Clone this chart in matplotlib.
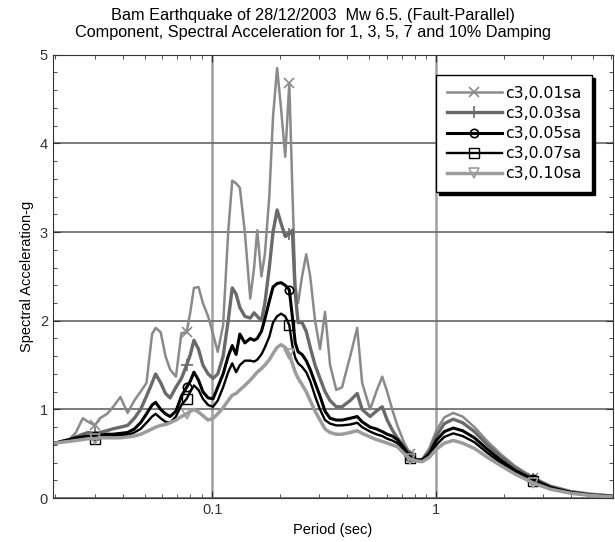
# Response spectra of the Bam record for five damping ratios
import numpy as np
import matplotlib
matplotlib.use("Agg")
import matplotlib.pyplot as plt
from matplotlib.ticker import FixedLocator, FuncFormatter, MultipleLocator, LogLocator, NullFormatter

plt.rcParams['font.family'] = ['Liberation Sans', 'DejaVu Sans']

# Period values (sec)
periods = [0.02, 0.0214, 0.0232, 0.0247, 0.0265, 0.028, 0.030, 0.0316, 0.034, 0.036,
           0.039, 0.042, 0.045, 0.048, 0.051, 0.054, 0.056, 0.059, 0.062, 0.065,
           0.069, 0.073, 0.077, 0.080, 0.083, 0.087, 0.091, 0.096, 0.101, 0.106,
           0.112, 0.118, 0.123, 0.128, 0.133, 0.140, 0.148, 0.154, 0.159, 0.166,
           0.172, 0.180, 0.187, 0.195, 0.203, 0.212, 0.221, 0.228, 0.235, 0.242,
           0.252, 0.263, 0.274, 0.288, 0.303, 0.319, 0.336, 0.358, 0.380, 0.413,
           0.444, 0.467, 0.507, 0.540, 0.574, 0.604, 0.636, 0.670, 0.720, 0.766,
           0.814, 0.866, 0.931, 1.0, 1.086, 1.19, 1.31, 1.48, 1.69, 1.93,
           2.25, 2.71, 3.23, 3.97, 4.87, 6.0]

# Spectral acceleration (g) for each damping ratio
sa_01 = [0.62, 0.64, 0.67, 0.74, 0.90, 0.86, 0.82, 0.90, 0.95, 1.02,
         1.14, 0.96, 1.10, 1.20, 1.30, 1.85, 1.92, 1.87, 1.60, 1.45,
         1.37, 1.86, 1.87, 2.10, 2.37, 2.38, 2.20, 2.05, 1.85, 1.65,
         1.95, 3.00, 3.58, 3.55, 3.50, 3.00, 2.25, 2.60, 3.02, 2.50,
         2.75, 3.40, 4.30, 4.85, 4.40, 3.85, 4.68, 3.50, 2.40, 2.20,
         2.50, 2.75, 2.50, 2.00, 1.68, 2.10, 1.50, 1.22, 1.25, 1.60,
         1.92, 1.30, 1.00, 1.20, 1.37, 1.20, 1.00, 0.82, 0.62, 0.50,
         0.44, 0.44, 0.56, 0.76, 0.91, 0.96, 0.92, 0.80, 0.64, 0.50,
         0.36, 0.23, 0.14, 0.08, 0.05, 0.03]
sa_03 = [0.62, 0.64, 0.66, 0.69, 0.72, 0.74, 0.73, 0.74, 0.76, 0.78,
         0.80, 0.82, 0.90, 1.00, 1.15, 1.30, 1.40, 1.30, 1.18, 1.13,
         1.25, 1.35, 1.50, 1.62, 1.78, 1.68, 1.50, 1.40, 1.35, 1.40,
         1.60, 2.00, 2.37, 2.30, 2.15, 2.05, 2.03, 2.09, 2.05, 2.00,
         2.20, 2.60, 3.00, 3.25, 3.10, 2.95, 2.98, 3.02, 2.30, 1.98,
         1.98, 1.88, 1.70, 1.50, 1.35, 1.20, 1.10, 1.03, 1.03, 1.10,
         1.18, 1.00, 0.92, 0.98, 1.03, 0.88, 0.77, 0.68, 0.58, 0.48,
         0.43, 0.43, 0.53, 0.70, 0.84, 0.89, 0.85, 0.75, 0.60, 0.47,
         0.34, 0.22, 0.13, 0.07, 0.04, 0.025]
sa_05 = [0.62, 0.64, 0.66, 0.68, 0.69, 0.70, 0.70, 0.71, 0.72, 0.72,
         0.73, 0.74, 0.78, 0.85, 0.95, 1.05, 1.08, 1.00, 0.95, 0.92,
         0.98, 1.15, 1.25, 1.32, 1.42, 1.33, 1.20, 1.13, 1.12, 1.25,
         1.40, 1.60, 1.72, 1.62, 1.85, 1.75, 1.80, 1.78, 1.80, 1.88,
         2.02, 2.22, 2.38, 2.42, 2.43, 2.40, 2.35, 2.05, 1.75, 1.65,
         1.62, 1.55, 1.45, 1.30, 1.15, 0.98, 0.90, 0.88, 0.88, 0.90,
         0.92, 0.86, 0.80, 0.78, 0.75, 0.72, 0.70, 0.66, 0.56, 0.46,
         0.43, 0.43, 0.50, 0.65, 0.75, 0.79, 0.76, 0.68, 0.55, 0.43,
         0.31, 0.21, 0.12, 0.065, 0.035, 0.02]
sa_07 = [0.62, 0.64, 0.65, 0.67, 0.68, 0.69, 0.67, 0.69, 0.70, 0.70,
         0.71, 0.71, 0.74, 0.78, 0.85, 0.92, 0.95, 0.90, 0.86, 0.85,
         0.92, 1.05, 1.12, 1.20, 1.27, 1.22, 1.12, 1.05, 1.03, 1.10,
         1.25, 1.42, 1.52, 1.42, 1.50, 1.55, 1.55, 1.54, 1.56, 1.62,
         1.70, 1.82, 1.98, 2.05, 2.08, 2.05, 1.95, 1.72, 1.58, 1.52,
         1.48, 1.42, 1.32, 1.15, 1.00, 0.88, 0.84, 0.82, 0.82, 0.83,
         0.85, 0.80, 0.75, 0.72, 0.70, 0.67, 0.65, 0.62, 0.53, 0.45,
         0.42, 0.42, 0.48, 0.60, 0.69, 0.73, 0.70, 0.63, 0.51, 0.40,
         0.29, 0.19, 0.11, 0.06, 0.03, 0.018]
sa_10 = [0.62, 0.63, 0.64, 0.65, 0.66, 0.67, 0.67, 0.68, 0.68, 0.68,
         0.68, 0.69, 0.70, 0.72, 0.75, 0.78, 0.80, 0.82, 0.83, 0.85,
         0.88, 0.92, 0.95, 0.98, 1.00, 0.97, 0.93, 0.88, 0.90, 0.95,
         1.02, 1.10, 1.16, 1.18, 1.22, 1.27, 1.33, 1.38, 1.42, 1.46,
         1.50, 1.56, 1.63, 1.70, 1.73, 1.70, 1.62, 1.52, 1.42, 1.35,
         1.28, 1.20, 1.10, 0.98, 0.88, 0.78, 0.74, 0.72, 0.72, 0.74,
         0.76, 0.73, 0.69, 0.66, 0.64, 0.62, 0.60, 0.58, 0.50, 0.44,
         0.42, 0.41, 0.46, 0.55, 0.62, 0.65, 0.62, 0.56, 0.46, 0.37,
         0.27, 0.17, 0.10, 0.055, 0.03, 0.015]

labels = ['c3,0.01sa', 'c3,0.03sa', 'c3,0.05sa', 'c3,0.07sa', 'c3,0.10sa']
# periods where the markers sit
mark_periods = [0.030, 0.077, 0.221, 0.766, 2.71]

fig = plt.figure(figsize=(6.15, 5.42), dpi=100)
ax = fig.add_axes([0.086, 0.081, 0.911, 0.818])

marks = [periods.index(t) for t in mark_periods]

# style of each damping curve
styles = [
    dict(color='#8a8a8a', lw=1.8, marker='x', ms=7, mew=1.2),
    dict(color='#6a6a6a', lw=2.4, marker='+', ms=8, mew=1.2),
    dict(color='black', lw=2.2, marker='o', ms=6, mfc='none', mew=1.2),
    dict(color='black', lw=1.7, marker='s', ms=7, mfc='none', mew=1.0),
    dict(color='#9c9c9c', lw=2.5, marker='v', ms=7, mfc='none', mew=1.2),
]
for sa, lab, st in zip([sa_01, sa_03, sa_05, sa_07, sa_10], labels, styles):
    ax.plot(periods, sa, label=lab, markevery=marks, **st)

ax.set_xscale('log')
ax.set_xlim(0.0195, 6.15)
ax.set_ylim(0, 5)

# ticks
ax.xaxis.set_major_locator(FixedLocator([0.1, 1]))
ax.xaxis.set_major_formatter(FuncFormatter(lambda v, p: '%g' % v))
ax.xaxis.set_minor_locator(LogLocator(base=10, subs=np.arange(2, 10)))
ax.xaxis.set_minor_formatter(NullFormatter())
ax.yaxis.set_major_locator(MultipleLocator(1))
ax.yaxis.set_minor_locator(MultipleLocator(0.2))
ax.tick_params(which='both', direction='in', top=True, right=True, labelsize=10.5, colors='#333333')
ax.tick_params(which='major', length=5)
ax.tick_params(which='minor', length=3)
for s in ax.spines.values():
    s.set_color('#333333')

# grid lines (vertical ones lighter)
ax.grid(True, axis='y', which='major', color='#666666', lw=1.2)
ax.grid(True, axis='x', which='major', color='#a0a0a0', lw=1.8)
ax.set_axisbelow(True)

ax.set_xlabel('Period (sec)', fontsize=10.5)
ax.set_ylabel('Spectral Acceleration-g', fontsize=10.5)
ax.set_title('Bam Earthquake of 28/12/2003  Mw 6.5. (Fault-Parallel)\n'
             'Component, Spectral Acceleration for 1, 3, 5, 7 and 10% Damping',
             fontsize=11.7, linespacing=1.1, pad=13, x=0.464)

leg = ax.legend(loc='upper right', bbox_to_anchor=(0.968, 0.962),
                prop={'family': 'DejaVu Sans', 'size': 11.3},
                handlelength=3.5, handletextpad=0.2, fancybox=False, edgecolor='black',
                framealpha=1, shadow={'color': 'black', 'alpha': 1},
                borderpad=0.7, labelspacing=0.33, borderaxespad=0.2)
leg.get_frame().set_linewidth(1.0)

fig.savefig('out.png', dpi=100)
